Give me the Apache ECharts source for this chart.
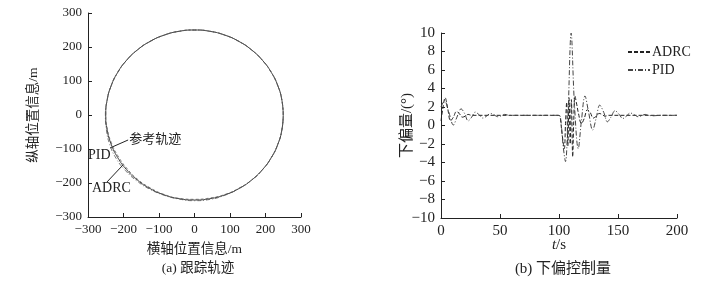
<!DOCTYPE html>
<html><head><meta charset="utf-8">
<script src="https://cdn.jsdelivr.net/npm/echarts@6/dist/echarts.min.js"></script>
<style>html,body{margin:0;padding:0;background:#fff}#c{width:721px;height:285px}</style>
</head><body><div id="c"></div>
<script>
// ---- Left chart: tracking trajectory (polar samples, angle in degrees, radius in m)
const trackAngles = [0,10,20,30,40,50,60,70,80,90,100,110,120,130,140,150,160,170,180,190,200,210,220,230,240,250,260,270,280,290,300,310,320,330,340,350,360];
const refRadius  = [250,250,250,250,250,250,250,250,250,250,250,250,250,250,250,250,250,250,250,250,250,250,250,250,250,250,250,250,250,250,250,250,250,250,250,250,250];
const pidRadius  = [250,250,250,250,250,250,250,250,250,250,250,250,250,250,250,250,250,250,251,252,254,255,254,253,252,251,251,252,252,251,250,250,250,250,250,250,250];
const adrcRadius = [250,250,250,250,250,250,250,250,250,250,250,250,250,250,250,250,250,250,250,249,248,247,247,248,248,249,249,248,248,249,249,250,250,250,250,250,250];
const leftTicks = [-300,-200,-100,0,100,200,300];

// ---- Right chart: deflection control (t in s, value in degrees)
const adrcT = [0,1.5,3.5,6,8,10.5,13,15.5,18,20.5,23,26,30,40,100,101,102.5,104.5,105.5,106.5,107.5,108.5,109.5,110.5,111.6,112.5,113.5,115,116.5,119,121.5,124,126.5,129,131.5,134,136.5,139,142,146,200];
const adrcV = [0.5,1.8,3.0,1.6,0.5,0.9,1.5,1.3,0.9,1.0,1.2,1.1,1.1,1.1,1.1,0.9,-0.8,-2.5,0.2,2.5,-2.2,3.0,-2.0,2.8,-3.4,0.5,3.2,2.3,1.3,0.2,0.8,1.7,1.4,0.8,1.0,1.3,1.2,1.0,1.1,1.1,1.1];
const pidT = [0,3,6.5,10.5,13.5,17,20,23,26,29,32,35.5,38.5,42,45,48,51,54,58,64,100,101.5,103.5,105.5,107.5,110.3,113,116.3,119,122,125,128.5,131.5,134.5,138,141,144,147.5,151,154,157,160.5,164,167,170,173,176,180,186,200];
const pidV = [2.0,2.7,1.5,0.05,0.9,1.8,1.3,0.5,0.9,1.45,1.2,0.8,1.0,1.3,1.15,0.95,1.05,1.2,1.1,1.1,1.1,0.6,-2.2,-3.9,0.5,10,2.5,-2.5,0.5,3.2,1.5,-0.5,0.8,2.2,1.4,0.4,0.9,1.6,1.2,0.75,1.0,1.35,1.15,0.95,1.05,1.2,1.1,1.05,1.1,1.1];
const rightXTicks = [0,50,100,150,200];
const rightYTicks = [-10,-8,-6,-4,-2,0,2,4,6,8,10];

const FONT = "'Liberation Serif','Times New Roman','Noto Sans CJK SC',serif";
const CJK = "'Liberation Serif','Noto Sans CJK SC',serif";
const minus = v => String(v).replace('-', '\u2212');

function toXY(angles, radii) {
  return angles.map((a, i) => {
    const r = radii[i], rad = a * Math.PI / 180;
    return [r * Math.cos(rad), r * Math.sin(rad)];
  });
}
const zip = (t, v) => t.map((x, i) => [x, v[i]]);

function axisBase(tickFont, nameFont) {
  return {
    axisLine: {show: true, onZero: false, lineStyle: {color: '#222', width: 1}},
    axisTick: {show: true, inside: true, length: 4, lineStyle: {color: '#222'}},
    splitLine: {show: false},
    axisLabel: {color: '#222', fontSize: tickFont, fontFamily: FONT, formatter: minus, margin: 6},
    nameTextStyle: {color: '#222', fontSize: nameFont, fontFamily: CJK},
    nameMoveOverlap: false
  };
}

const chart = echarts.init(document.getElementById('c'), null, {renderer: 'canvas'});
const option = {
  animation: false,
  backgroundColor: '#fff',
  title: [
    {text: '(a) 跟踪轨迹', left: 193, top: 257, textAlign: 'center', textStyle: {fontSize: 13.5, fontWeight: 'normal', color: '#222', fontFamily: CJK}},
    {text: '(b) 下偏控制量', left: 558, top: 257, textAlign: 'center', textStyle: {fontSize: 15, fontWeight: 'normal', color: '#222', fontFamily: CJK}}
  ],
  legend: {
    data: ['ADRC', 'PID'], orient: 'vertical', left: 622, top: 40, itemWidth: 22, itemHeight: 8, itemGap: 4,
    itemStyle: {opacity: 0},
    textStyle: {fontSize: 14, color: '#222', fontFamily: FONT, padding: [0, 0, 0, -3]}
  },
  grid: [
    {left: 88, top: 13, width: 213, height: 204},
    {left: 441, top: 33, width: 236, height: 185}
  ],
  xAxis: [
    Object.assign(axisBase(13, 13.5), {gridIndex: 0, type: 'value', min: -300, max: 300, interval: 100,
      name: '横轴位置信息/m', nameLocation: 'middle', nameGap: 26}),
    Object.assign(axisBase(15, 15), {gridIndex: 1, type: 'value', min: 0, max: 200, interval: 50,
      name: '{i|t}/s', nameLocation: 'middle', nameGap: 20,
      nameTextStyle: {color: '#222', fontSize: 15, fontFamily: FONT, rich: {i: {fontStyle: 'italic', fontSize: 15, fontFamily: FONT}}}})
  ],
  yAxis: [
    Object.assign(axisBase(13, 13.5), {gridIndex: 0, type: 'value', min: -300, max: 300, interval: 100,
      name: '纵轴位置信息/m', nameLocation: 'middle', nameGap: 48}),
    Object.assign(axisBase(15, 15), {gridIndex: 1, type: 'value', min: -10, max: 10, interval: 2,
      name: '下偏量/(°)', nameLocation: 'middle', nameGap: 26})
  ],
  series: [
    {name: 'ref', type: 'line', xAxisIndex: 0, yAxisIndex: 0, data: toXY(trackAngles, refRadius), smooth: 0.5, showSymbol: false, symbol: 'none',
      lineStyle: {color: '#444', width: 1}},
    {name: 'pidTrack', type: 'line', xAxisIndex: 0, yAxisIndex: 0, data: toXY(trackAngles, pidRadius), smooth: 0.5, showSymbol: false, symbol: 'none',
      lineStyle: {color: '#555', width: 0.8, type: [4, 2, 1, 2]}},
    {name: 'adrcTrack', type: 'line', xAxisIndex: 0, yAxisIndex: 0, data: toXY(trackAngles, adrcRadius), smooth: 0.5, showSymbol: false, symbol: 'none',
      lineStyle: {color: '#555', width: 0.8, type: [3, 2]}},
    {name: 'ADRC', type: 'line', xAxisIndex: 1, yAxisIndex: 1, data: zip(adrcT, adrcV), smooth: 0.35, showSymbol: false, symbol: 'none',
      lineStyle: {color: '#222', width: 1, type: [4, 2]}, itemStyle: {color: '#222'}},
    {name: 'PID', type: 'line', xAxisIndex: 1, yAxisIndex: 1, data: zip(pidT, pidV), smooth: 0.35, showSymbol: false, symbol: 'none',
      lineStyle: {color: '#444', width: 1, type: [5, 2, 1, 2]}, itemStyle: {color: '#444'}}
  ]
};
chart.setOption(option);

// annotations in left chart (data coordinates converted to pixels)
const P = p => chart.convertToPixel({gridIndex: 0}, p);
const annTextStyle = {fontSize: 13, fill: '#222', fontFamily: CJK};
const refA = P([-238, -97]), refB = P([-187, -73.5]);
const adA = P([-246.5, -197]), adB = P([-201.4, -147]);
const refT = P([-184, -73.5]), pidTx = P([-300, -117.6]), adTx = P([-288.7, -214.7]);
chart.setOption({
  graphic: [
    {type: 'line', shape: {x1: refA[0], y1: refA[1], x2: refB[0], y2: refB[1]}, style: {stroke: '#222', lineWidth: 1}},
    {type: 'line', shape: {x1: adA[0], y1: adA[1], x2: adB[0], y2: adB[1]}, style: {stroke: '#222', lineWidth: 1}},
    {type: 'text', x: refT[0], y: refT[1], style: Object.assign({text: '参考轨迹', verticalAlign: 'middle'}, annTextStyle)},
    {type: 'text', x: pidTx[0], y: pidTx[1], style: Object.assign({text: 'PID', verticalAlign: 'middle'}, annTextStyle, {fontFamily: FONT, fontSize: 14})},
    {type: 'text', x: adTx[0], y: adTx[1], style: Object.assign({text: 'ADRC', verticalAlign: 'middle'}, annTextStyle, {fontFamily: FONT, fontSize: 14})}
  ]
});
</script></body></html>
